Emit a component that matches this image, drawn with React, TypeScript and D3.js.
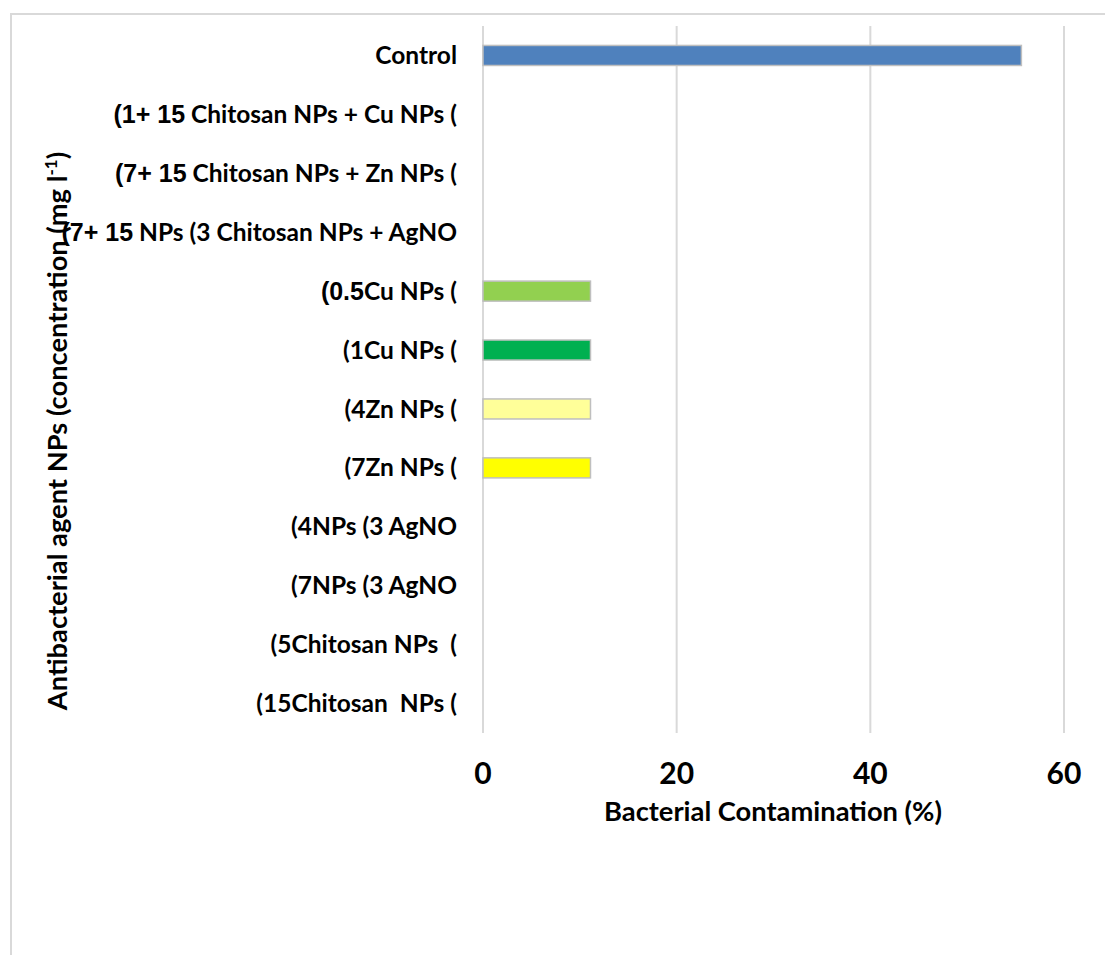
import React from "react";
import * as d3 from "d3";

// Treatments, top to bottom; each label is drawn as a leading dose part and a trailing name part
const labelLead: string[] = [
  "Control", "(1+ 15", "(7+ 15", "(7+ 15", "(0.5", "(1", "(4", "(7", "(4", "(7", "(5", "(15",
];
const labelRest: string[] = [
  "", " Chitosan NPs + Cu NPs (", " Chitosan NPs + Zn NPs (", " NPs (3 Chitosan NPs + AgNO",
  "Cu NPs (", "Cu NPs (", "Zn NPs (", "Zn NPs (", "NPs (3 AgNO", "NPs (3 AgNO",
  "Chitosan NPs  (", "Chitosan  NPs (",
];
// Bacterial contamination (%) per treatment
const contamination: number[] = [55.6, 0, 0, 0, 11.1, 11.1, 11.1, 11.1, 0, 0, 0, 0];
const barColors: string[] = [
  "#4f81bd", "#4f81bd", "#4f81bd", "#4f81bd", "#92d050", "#00b050", "#ffff99", "#ffff00",
  "#4f81bd", "#4f81bd", "#4f81bd", "#4f81bd",
];
const xTicks: number[] = [0, 20, 40, 60];

const W = 1105;
const H = 955;
const plot = { left: 483, right: 1064, top: 26, bottom: 733 };
const FONT = "Lato, 'Open Sans', sans-serif";
const ARIAL = "'Liberation Sans', Arial, sans-serif";

export default function App() {
  const ids = labelLead.map((_, i) => String(i));
  const x = d3.scaleLinear().domain([0, 60]).range([plot.left, plot.right]);
  const y = d3.scaleBand<string>().domain(ids).range([plot.top, plot.bottom]).paddingInner(0.66).paddingOuter(0.33);
  const step = y.step();

  return (
    <svg width={W} height={H} style={{ position: "absolute", left: 0, top: 0, background: "#fff" }}>
      {/* outer frame */}
      <rect x={11} y={14} width={1110} height={1000} fill="#fff" stroke="#d9d9d9" strokeWidth={2} />

      {/* vertical gridlines */}
      {xTicks.map((t) => (
        <line key={"g" + t} x1={x(t)} x2={x(t)} y1={plot.top} y2={plot.bottom} stroke="#d9d9d9" strokeWidth={2} />
      ))}

      {/* bars */}
      {contamination.map((v, i) =>
        v > 0 ? (
          <rect
            key={"b" + i}
            x={x(0)}
            y={y(ids[i])!}
            width={x(v) - x(0)}
            height={y.bandwidth()}
            fill={barColors[i]}
            stroke="#bfbfbf"
            strokeWidth={1.5}
          />
        ) : null
      )}

      {/* category labels */}
      {labelLead.map((lead, i) => {
        const cy = plot.top + step * i + step / 2;
        const big = lead.includes("+") || lead === "(0.5";
        return (
          <text
            key={"l" + i}
            x={457}
            y={cy}
            dy="0.35em"
            textAnchor="end"
            fontFamily={FONT}
            fontWeight={700}
            fontSize={24.5}
            fill="#000"
            style={{ whiteSpace: "pre" }}
          >
            <tspan fontSize={big ? 25 : 24.5} fontFamily={big ? ARIAL : FONT}>
              {lead}
            </tspan>
            {labelRest[i] ? <tspan>{labelRest[i]}</tspan> : null}
          </text>
        );
      })}

      {/* x tick labels */}
      {xTicks.map((t) => (
        <text
          key={"t" + t}
          x={x(t)}
          y={773}
          dy="0.35em"
          textAnchor="middle"
          fontFamily={FONT}
          fontWeight={700}
          fontSize={30}
          fill="#000"
        >
          {t}
        </text>
      ))}

      {/* axis titles */}
      <text x={773} y={811} dy="0.35em" textAnchor="middle" fontFamily={FONT} fontWeight={700} fontSize={27.3} fill="#000">
        Bacterial Contamination (%)
      </text>
      <text
        transform={`translate(57, ${431}) rotate(-90)`}
        dy="0.35em"
        textAnchor="middle"
        fontFamily={FONT}
        fontWeight={700}
        fontSize={27.3}
        fill="#000"
      >
        Antibacterial agent NPs (concentration (mg l
        <tspan fontSize={17} dy="-10">-1</tspan>
        <tspan dy="10">)</tspan>
      </text>
    </svg>
  );
}
